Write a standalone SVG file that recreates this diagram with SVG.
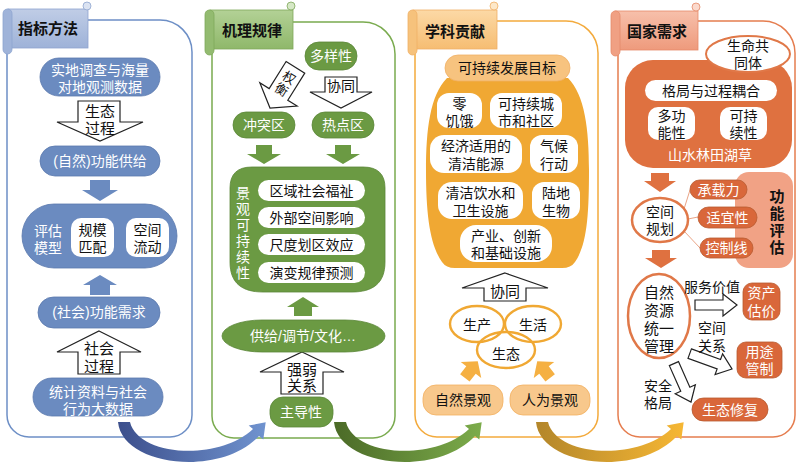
<svg xmlns="http://www.w3.org/2000/svg" width="800" height="463" viewBox="0 0 800 463">
<defs>
<style>
.t{font-family:"Liberation Sans","Noto Sans CJK SC",sans-serif;font-size:14px;text-anchor:middle;dominant-baseline:central;fill:#111}
.w{fill:#fff}
.b{font-weight:bold}
.ho{fill:#fff;stroke:#222;stroke-width:1.2;stroke-linejoin:miter}
.bn{fill:#6b8bc0;stroke:#5a79ad;stroke-width:0.8}
.gn{fill:#6b9a43;stroke:#5b8637;stroke-width:0.8}
.wb{fill:#fff}
.on{fill:#d9673a;stroke:#b85a30;stroke-width:0.8}
.oc{fill:#fff;stroke:#e07848;stroke-width:2.5}
.ring{fill:none;stroke:#f0a833;stroke-width:2.4}
</style>
<linearGradient id="gBlue" x1="0" y1="0" x2="1" y2="0"><stop offset="0" stop-color="#3c4f8c"/><stop offset="1" stop-color="#7093cf"/></linearGradient>
<linearGradient id="gGreen" x1="0" y1="0" x2="1" y2="0"><stop offset="0" stop-color="#4b6a27"/><stop offset="1" stop-color="#7cac4b"/></linearGradient>
<linearGradient id="gGold" x1="0" y1="0" x2="1" y2="0"><stop offset="0" stop-color="#b3862a"/><stop offset="1" stop-color="#f6b734"/></linearGradient>
<linearGradient id="tab1" x1="0" y1="0" x2="0" y2="1"><stop offset="0" stop-color="#c0cde6"/><stop offset="1" stop-color="#9eb2d8"/></linearGradient>
<linearGradient id="tab2" x1="0" y1="0" x2="0" y2="1"><stop offset="0" stop-color="#b3d196"/><stop offset="1" stop-color="#8fb86a"/></linearGradient>
<linearGradient id="tab3" x1="0" y1="0" x2="0" y2="1"><stop offset="0" stop-color="#fcd9a6"/><stop offset="1" stop-color="#f6bd72"/></linearGradient>
<linearGradient id="tab4" x1="0" y1="0" x2="0" y2="1"><stop offset="0" stop-color="#f7c0ab"/><stop offset="1" stop-color="#ee9a7c"/></linearGradient>
<path id="swoosh" d="M118 422 C122 466 220 478 259 436 L263.3 439.4 L265.7 422.3 L248.7 425.6 L253 429 C218 462 138 456 130 422 Z"/>
</defs>

<!-- panels -->
<g id="panels" fill="#fff" stroke-width="1.5">
<path id="panel1" d="M7 20 H160 A32 32 0 0 1 192 52 V415 A22 22 0 0 1 170 437 H29 A22 22 0 0 1 7 415 Z" stroke="#6d8fc6"/>
<path id="panel2" d="M212 22 H363 A32 32 0 0 1 395 54 V416 A22 22 0 0 1 373 438 H234 A22 22 0 0 1 212 416 Z" stroke="#7aab4f"/>
<path id="panel3" d="M415 21 H566 A32 32 0 0 1 598 53 V415 A22 22 0 0 1 576 437 H437 A22 22 0 0 1 415 415 Z" stroke="#f3aa3c"/>
<path id="panel4" d="M618 21 H763 A32 32 0 0 1 795 53 V415 A22 22 0 0 1 773 437 H640 A22 22 0 0 1 618 415 Z" stroke="#e57d4f"/>
</g>

<!-- tabs -->
<g id="tab-1">
<rect x="8" y="9" width="80" height="39" fill="url(#tab1)" stroke="#8ea4cf" stroke-width="0.8"/>
<rect x="3" y="9" width="9" height="45" rx="4.5" fill="#9fb3d9" stroke="#8ea4cf" stroke-width="0.8"/>
<circle cx="87" cy="6" r="4" fill="#dbe3f2" stroke="#8ea4cf" stroke-width="0.8"/>
<text class="t b" x="48" y="28" style="font-size:15px">指标方法</text>
</g>
<g id="tab-2">
<rect x="210" y="10" width="83" height="39" fill="url(#tab2)" stroke="#7fa85a" stroke-width="0.8"/>
<rect x="205" y="10" width="9" height="45" rx="4.5" fill="#93bb70" stroke="#7fa85a" stroke-width="0.8"/>
<circle cx="291" cy="6" r="4" fill="#d6e8c6" stroke="#7fa85a" stroke-width="0.8"/>
<text class="t b" x="252" y="30" style="font-size:15px">机理规律</text>
</g>
<g id="tab-3">
<rect x="413" y="10" width="84" height="39" fill="url(#tab3)" stroke="#f0b066" stroke-width="0.8"/>
<rect x="408" y="10" width="9" height="45" rx="4.5" fill="#f6c27c" stroke="#f0b066" stroke-width="0.8"/>
<circle cx="494" cy="6" r="4" fill="#fde8c9" stroke="#f0b066" stroke-width="0.8"/>
<text class="t b" x="455" y="31" style="font-size:15px">学科贡献</text>
</g>
<g id="tab-4">
<rect x="615" y="11" width="83" height="39" fill="url(#tab4)" stroke="#e58a6a" stroke-width="0.8"/>
<rect x="611" y="11" width="9" height="45" rx="4.5" fill="#f0a083" stroke="#e58a6a" stroke-width="0.8"/>
<circle cx="696" cy="7" r="4" fill="#fbd9cc" stroke="#e58a6a" stroke-width="0.8"/>
<text class="t b" x="657" y="31" style="font-size:15px">国家需求</text>
</g>

<!-- connectors -->
<g id="connectors">
<use href="#swoosh" fill="url(#gBlue)"/>
<use href="#swoosh" fill="url(#gGreen)" transform="translate(216,0)"/>
<use href="#swoosh" fill="url(#gGold)" transform="translate(418,0)"/>
<!-- column 1 arrows -->
<path class="ho" d="M78 101 H120 V122 H143 L100 141 L57 122 H78 Z"/>
<text class="t" style="font-size:15px"><tspan x="100" y="111">生态</tspan><tspan x="100" y="128">过程</tspan></text>
<path d="M90 180 H110 V190 H118 L100 201 L82 190 H90 Z" fill="#6b8bc0"/>
<path d="M100 275 L117 285 H110 V295 H90 V285 H83 Z" fill="#6b8bc0"/>
<path class="ho" d="M99 331 L141 352 H120 V374 H78 V352 H57 Z"/>
<text class="t" style="font-size:15px"><tspan x="99" y="348">社会</tspan><tspan x="99" y="366">过程</tspan></text>
<!-- column 2 arrows -->
<g transform="translate(270,108) rotate(32)">
<path class="ho" d="M-11 -48 H11 V-16 H22 L0 0 L-22 -16 H-11 Z"/>
<text class="t" style="font-size:13px"><tspan x="0" y="-36">权</tspan><tspan x="0" y="-22">衡</tspan></text>
</g>
<path class="ho" d="M325 77 H357 V92 H372 L341 108 L310 92 H325 Z"/>
<text class="t" x="341" y="86">协同</text>
<path d="M256 145 H272 V154 H281 L264 164 L247 154 H256 Z" fill="#6b9a43"/>
<path d="M335 145 H351 V154 H360 L343 164 L326 154 H335 Z" fill="#6b9a43"/>
<path d="M303 297 L319 307 H312 V316 H294 V307 H287 Z" fill="#6b9a43"/>
<path class="ho" d="M302 352 L344 372 H323 V394 H281 V372 H260 Z"/>
<text class="t" style="font-size:15px"><tspan x="302" y="369">强弱</tspan><tspan x="302" y="385">关系</tspan></text>
<!-- column 3 arrows -->
<path class="ho" d="M505 273 L548 288 H526 V301 H484 V288 H462 Z"/>
<text class="t" x="505" y="291" style="font-size:15px">协同</text>
<path d="M0 -11 L13 0 H6 V10 H-6 V0 H-13 Z" fill="#f5b042" transform="translate(471,370) rotate(38)"/>
<path d="M0 -11 L13 0 H6 V10 H-6 V0 H-13 Z" fill="#f5b042" transform="translate(544,370) rotate(-38)"/>
<!-- column 4 arrows -->
<path d="M651 173 H669 V181 H676 L660 192 L644 181 H651 Z" fill="#df7140"/>
<path d="M652 250 H670 V258 H677 L661 268 L645 258 H652 Z" fill="#df7140"/>
<g stroke="#eaa486" stroke-width="1" fill="none">
<line x1="684" y1="209" x2="690" y2="190"/>
<line x1="688" y1="219" x2="698" y2="217"/>
<line x1="684" y1="231" x2="700" y2="248"/>
</g>
<path class="ho" d="M695 300 H723 V294 L737 305 L723 316 V310 H695 Z"/>
<path class="ho" d="M-45 -5 H-14 V-11 L0 0 L-14 11 V5 H-45 Z" transform="translate(732,369) rotate(20)"/>
<path class="ho" d="M-5 -42 H5 V-14 H11 L0 0 L-11 -14 H-5 Z" transform="translate(691,402) rotate(-24)"/>
</g>

<!-- column 1 nodes -->
<g id="n-survey"><rect class="bn" x="40" y="58" width="120" height="38" rx="19"/><text class="t w"><tspan x="100" y="70">实地调查与海量</tspan><tspan x="100" y="87">对地观测数据</tspan></text></g>
<g id="n-supply"><rect class="bn" x="40" y="146" width="120" height="30" rx="15"/><text class="t w" x="100" y="161">(自然)功能供给</text></g>
<g id="n-model"><rect class="bn" x="22" y="204" width="155" height="64" rx="32"/>
<text class="t w"><tspan x="48" y="231">评估</tspan><tspan x="48" y="248">模型</tspan></text>
<rect class="wb" x="71" y="218" width="43" height="39" rx="10"/><text class="t"><tspan x="92.5" y="230">规模</tspan><tspan x="92.5" y="247">匹配</tspan></text>
<rect class="wb" x="126" y="218" width="43" height="39" rx="10"/><text class="t"><tspan x="147.5" y="230">空间</tspan><tspan x="147.5" y="247">流动</tspan></text></g>
<g id="n-demand"><rect class="bn" x="38" y="297" width="122" height="31" rx="15.5"/><text class="t w" x="99" y="312">(社会)功能需求</text></g>
<g id="n-stats"><rect class="bn" x="33" y="378" width="130" height="38" rx="19"/><text class="t w"><tspan x="98" y="392">统计资料与社会</tspan><tspan x="98" y="409">行为大数据</tspan></text></g>

<!-- column 2 nodes -->
<g id="n-diversity"><rect class="gn" x="305" y="42" width="52" height="28" rx="14"/><text class="t w" x="331" y="56">多样性</text></g>
<g id="n-conflict"><rect class="gn" x="233" y="112" width="62" height="26" rx="13"/><text class="t w" x="264" y="125">冲突区</text></g>
<g id="n-hotspot"><rect class="gn" x="312" y="112" width="62" height="26" rx="13"/><text class="t w" x="343" y="125">热点区</text></g>
<g id="n-sustain">
<path class="gn" d="M230 188 Q230 167 252 167 H363 Q385 167 385 188 V262 C385 284 372 292 352 292 H263 C243 292 230 284 230 262 Z"/>
<text class="t w"><tspan x="243" y="193">景</tspan><tspan x="243" y="209">观</tspan><tspan x="243" y="225">可</tspan><tspan x="243" y="241">持</tspan><tspan x="243" y="257">续</tspan><tspan x="243" y="273">性</tspan></text>
<rect class="wb" x="258" y="180" width="107" height="21" rx="10.5"/><text class="t" x="311.5" y="190.5">区域社会福祉</text>
<rect class="wb" x="258" y="207" width="107" height="21" rx="10.5"/><text class="t" x="311.5" y="217.5">外部空间影响</text>
<rect class="wb" x="258" y="234" width="107" height="21" rx="10.5"/><text class="t" x="311.5" y="244.5">尺度划区效应</text>
<rect class="wb" x="258" y="262" width="107" height="21" rx="10.5"/><text class="t" x="311.5" y="272.5">演变规律预测</text>
</g>
<g id="n-services"><rect class="gn" x="222" y="320" width="163" height="32" rx="40" ry="16"/><text class="t w" x="303" y="336">供给/调节/文化…</text></g>
<g id="n-dominant"><rect class="gn" x="270" y="397" width="63" height="30" rx="13"/><text class="t w" x="301" y="412">主导性</text></g>

<!-- column 3 nodes -->
<g id="n-sdg">
<path d="M447 78 C430 95 426 130 426 170 C426 215 430 245 442 262 Q446 268 455 268 H562 Q571 268 575 262 C587 245 589 215 589 170 C589 130 585 95 568 78 Z" fill="#f0a833"/>
<rect x="445" y="55" width="125" height="26" rx="13" fill="#f7c37f" stroke="#f0b066" stroke-width="0.8"/>
<text class="t" x="507" y="68">可持续发展目标</text>
<rect class="wb" x="437" y="93" width="45" height="35" rx="12"/><text class="t"><tspan x="459.5" y="104">零</tspan><tspan x="459.5" y="121">饥饿</tspan></text>
<rect class="wb" x="490" y="93" width="72" height="35" rx="12"/><text class="t"><tspan x="526" y="104">可持续城</tspan><tspan x="526" y="121">市和社区</tspan></text>
<rect class="wb" x="430" y="135" width="92" height="38" rx="14"/><text class="t"><tspan x="476" y="146">经济适用的</tspan><tspan x="476" y="164">清洁能源</tspan></text>
<rect class="wb" x="530" y="135" width="48" height="38" rx="12"/><text class="t"><tspan x="554" y="146">气候</tspan><tspan x="554" y="164">行动</tspan></text>
<rect class="wb" x="438" y="182" width="85" height="37" rx="14"/><text class="t"><tspan x="480.5" y="193">清洁饮水和</tspan><tspan x="480.5" y="211">卫生设施</tspan></text>
<rect class="wb" x="532" y="182" width="48" height="37" rx="12"/><text class="t"><tspan x="556" y="193">陆地</tspan><tspan x="556" y="211">生物</tspan></text>
<rect class="wb" x="460" y="225" width="92" height="37" rx="16"/><text class="t"><tspan x="506" y="236">产业、创新</tspan><tspan x="506" y="253">和基础设施</tspan></text>
</g>
<g id="n-rings">
<ellipse class="ring" cx="477" cy="324" rx="27" ry="18"/>
<ellipse class="ring" cx="533" cy="324" rx="28" ry="18"/>
<ellipse class="ring" cx="506" cy="350" rx="29" ry="18"/>
<text class="t" x="477" y="325">生产</text>
<text class="t" x="533" y="325">生活</text>
<text class="t" x="506" y="354">生态</text>
</g>
<g id="n-natural"><rect x="423" y="385" width="80" height="30" rx="13" fill="#f8c88c" stroke="#f3b060" stroke-width="0.8"/><text class="t" x="463" y="400">自然景观</text></g>
<g id="n-human"><rect x="510" y="385" width="80" height="30" rx="13" fill="#f8c88c" stroke="#f3b060" stroke-width="0.8"/><text class="t" x="550" y="400">人为景观</text></g>

<!-- column 4 nodes -->
<g id="n-mountains">
<rect x="625" y="60" width="167" height="108" rx="28" fill="#df7140"/>
<rect class="wb" x="645" y="80" width="132" height="21" rx="10.5"/><text class="t" x="711" y="90.5">格局与过程耦合</text>
<rect class="wb" x="648" y="107" width="47" height="33" rx="10"/><text class="t"><tspan x="671.5" y="116">多功</tspan><tspan x="671.5" y="133">能性</tspan></text>
<rect class="wb" x="720" y="107" width="47" height="33" rx="10"/><text class="t"><tspan x="743.5" y="116">可持</tspan><tspan x="743.5" y="133">续性</tspan></text>
<text class="t w" x="710" y="155">山水林田湖草</text>
</g>
<g id="n-community"><ellipse cx="748" cy="54" rx="42" ry="18" fill="#fff" stroke="#e07848" stroke-width="2"/><text class="t"><tspan x="748" y="46">生命共</tspan><tspan x="748" y="63">同体</tspan></text></g>
<g id="n-evaluation">
<rect x="735" y="172" width="58" height="96" rx="14" fill="#f1a285"/>
<text class="t b" style="font-size:15px"><tspan x="777" y="196">功</tspan><tspan x="777" y="213">能</tspan><tspan x="777" y="230">评</tspan><tspan x="777" y="247">估</tspan></text>
</g>
<g id="n-capacity"><rect class="on" x="690" y="180" width="57" height="19" rx="9.5"/><text class="t w" x="718.5" y="189.5">承载力</text></g>
<g id="n-suitability"><rect class="on" x="698" y="207" width="59" height="21" rx="10.5"/><text class="t w" x="727.5" y="217.5">适宜性</text></g>
<g id="n-controlline"><rect class="on" x="700" y="238" width="53" height="20" rx="10"/><text class="t w" x="726.5" y="248">控制线</text></g>
<g id="n-planning"><ellipse class="oc" cx="660" cy="220" rx="28" ry="22"/><text class="t"><tspan x="660" y="212">空间</tspan><tspan x="660" y="229">规划</tspan></text></g>
<g id="n-unified"><ellipse class="oc" cx="659" cy="316" rx="31" ry="42"/>
<text class="t" style="font-size:15px"><tspan x="659" y="292">自然</tspan><tspan x="659" y="310">资源</tspan><tspan x="659" y="328">统一</tspan><tspan x="659" y="346">管理</tspan></text></g>
<text class="t" x="712" y="287">服务价值</text>
<text class="t"><tspan x="712" y="328">空间</tspan><tspan x="712" y="346">关系</tspan></text>
<text class="t"><tspan x="658" y="386">安全</tspan><tspan x="658" y="403">格局</tspan></text>
<g id="n-asset"><rect class="on" x="743" y="283" width="37" height="37" rx="9"/><text class="t w"><tspan x="761.5" y="293">资产</tspan><tspan x="761.5" y="311">估价</tspan></text></g>
<g id="n-usecontrol"><rect class="on" x="737" y="342" width="45" height="36" rx="9"/><text class="t w"><tspan x="759.5" y="351.5">用途</tspan><tspan x="759.5" y="369">管制</tspan></text></g>
<g id="n-restore"><rect class="on" x="692" y="398" width="76" height="23" rx="11.5"/><text class="t w" x="730" y="409.5">生态修复</text></g>
</svg>
